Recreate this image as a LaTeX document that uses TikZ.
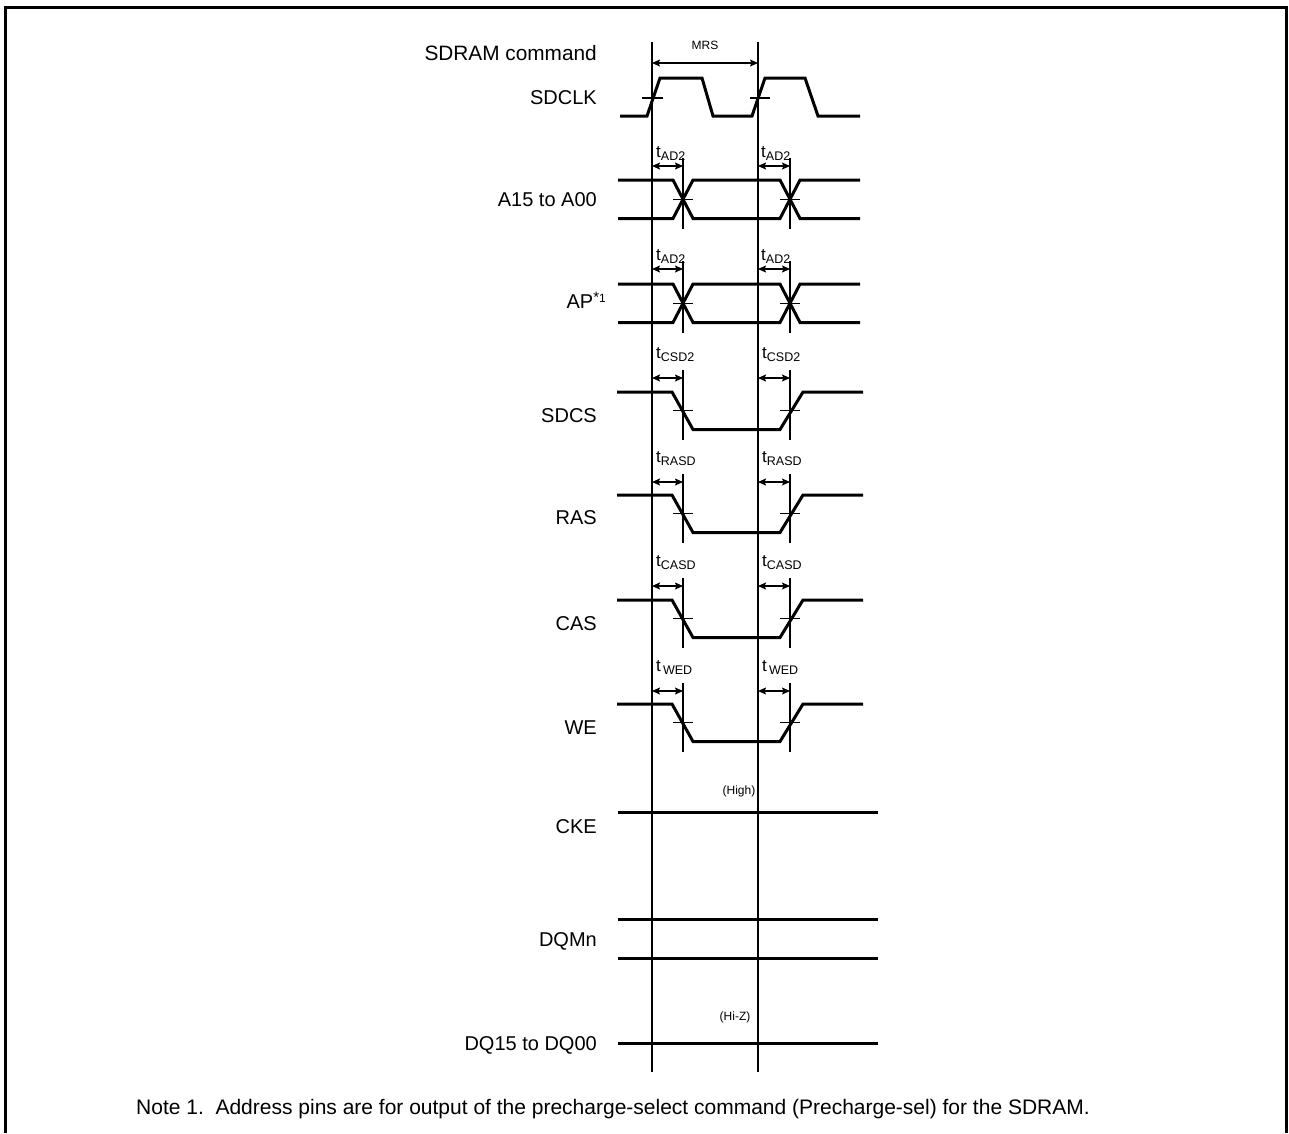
\documentclass[tikz,border=0pt]{standalone}
\usepackage{fontspec}
\setmainfont{Liberation Sans}
\usetikzlibrary{arrows.meta}
\newcommand{\tsub}[1]{t\raisebox{-3pt}{\fontsize{12.5}{13}\selectfont #1}}
\begin{document}
\begin{tikzpicture}[x=1pt,y=-1pt,
  sig/.style={line width=3pt, line join=miter},
  refl/.style={line width=1.4pt},
  tickl/.style={line width=1.3pt},
  dim/.style={{Stealth[length=8pt,width=7pt,inset=1.5pt]}-{Stealth[length=8pt,width=7pt,inset=1.5pt]}, line width=1.3pt},
  lbl/.style={anchor=base east, inner sep=0pt, font=\fontsize{20}{24}\selectfont},
  sm/.style={inner sep=2pt, fill=white, font=\fontsize{12}{14}\selectfont},
  tl/.style={anchor=base west, inner sep=0pt, font=\fontsize{17}{20}\selectfont}]

\useasboundingbox (0,0) rectangle (1289,1133);
% frame
\draw[line width=3.2pt] (5.3,1133) -- (5.3,7.3) -- (1286.7,7.3) -- (1286.7,1133);

% reference lines
\coordinate (v1t) at (652,42); \coordinate (v1b) at (652,1072);
\coordinate (v2t) at (758,42); \coordinate (v2b) at (758,1072);
\draw[refl] (v1t) -- (v1b);
\draw[refl] (v2t) -- (v2b);

% signal names
\node[lbl, font=\fontsize{20.8}{24}\selectfont] (cmd)  at (597,60) {SDRAM command};
\node[lbl] (clk)  at (597,104)  {SDCLK};
\node[lbl] (adr)  at (597,206)  {A15 to A00};
\node[lbl] (ap)   at (606,308)  {AP\raisebox{6pt}{\fontsize{15}{15}\selectfont *\fontsize{12}{12}\selectfont 1}};
\node[lbl] (cs)   at (597,422)  {SDCS};
\node[lbl] (ras)  at (597,524)  {RAS};
\node[lbl] (cas)  at (597,630)  {CAS};
\node[lbl] (we)   at (597,734)  {WE};
\node[lbl] (cke)  at (597,833)  {CKE};
\node[lbl] (dqm)  at (597,946)  {DQMn};
\node[lbl] (dq)   at (597,1050) {DQ15 to DQ00};

% MRS
\node[sm, fill=none] (mrs) at (705,45) {MRS};
\draw[dim] (v1t |- 0,63) -- (v2t |- 0,63);

% SDCLK
\draw[sig] (620,116) -- (647,116) -- (660,78) -- (702,78) -- (713,116) -- (752,116)
  -- (765,78) -- (805,78) -- (818,116) -- (860,116);
\draw[tickl] (642,98) -- (663,98);
\draw[tickl] (750,98) -- (770,98);

% A15 to A00 and AP (bus signals)
\foreach \yt/\ya/\nm/\lb in {180/166/a/AD2, 284/269/b/AD2} {
  \pgfmathsetmacro\yb{\yt+38.5}
  \pgfmathsetmacro\ym{\yt+19.25}
  \draw[sig] (618,\yt) -- (673,\yt) -- (693,\yb) -- (780,\yb) -- (800,\yt) -- (860,\yt);
  \draw[sig] (618,\yb) -- (673,\yb) -- (693,\yt) -- (780,\yt) -- (800,\yb) -- (860,\yb);
  \draw[tickl] (683,\ya-8) -- (683,\yb+10);
  \draw[tickl] (790,\ya-8) -- (790,\yb+10);
  \draw[tickl] (673,\ym) -- (693,\ym);
  \draw[tickl] (780,\ym) -- (800,\ym);
  \draw[dim] (652,\ya) -- (683,\ya);
  \draw[dim] (758,\ya) -- (790,\ya);
  \node[tl] (t\nm1) at (656,\ya-9) {\tsub{\lb}};
  \node[tl] (t\nm2) at (761,\ya-9) {\tsub{\lb}};
}

% control signals
\foreach \yh/\ya/\nm/\lb in {392/378/c/CSD2, 495/482/d/RASD, 600/586/e/CASD, 704/691/f/{\,WED}} {
  \pgfmathsetmacro\yl{\yh+37.5}
  \pgfmathsetmacro\ym{\yh+18.5}
  \draw[sig] (617,\yh) -- (672,\yh) -- (693,\yl) -- (780,\yl) -- (803,\yh) -- (863,\yh);
  \draw[tickl] (683,\ya-8) -- (683,\yl+10);
  \draw[tickl] (790,\ya-8) -- (790,\yl+10);
  \draw[tickl] (673,\ym) -- (693,\ym);
  \draw[tickl] (780,\ym) -- (800,\ym);
  \draw[dim] (652,\ya) -- (683,\ya);
  \draw[dim] (758,\ya) -- (790,\ya);
  \node[tl] (t\nm1) at (656,\ya-20) {\tsub{\lb}};
  \node[tl] (t\nm2) at (762,\ya-20) {\tsub{\lb}};
}

% CKE, DQMn, DQ
\draw[sig] (618,812) -- (878,812);
\draw[sig] (618,919) -- (878,919);
\draw[sig] (618,958) -- (878,958);
\draw[sig] (618,1043) -- (878,1043);
\node[sm] (high) at (739,791) {(High)};
\node[sm] (hiz) at (735,1017) {(Hi-Z)};

% note
\node[anchor=base west, inner sep=0pt, font=\fontsize{21}{25}\selectfont] (note) at (136,1114)
  {Note 1.\ \ Address pins are for output of the precharge-select command (Precharge-sel) for the SDRAM.};
\end{tikzpicture}
\end{document}
